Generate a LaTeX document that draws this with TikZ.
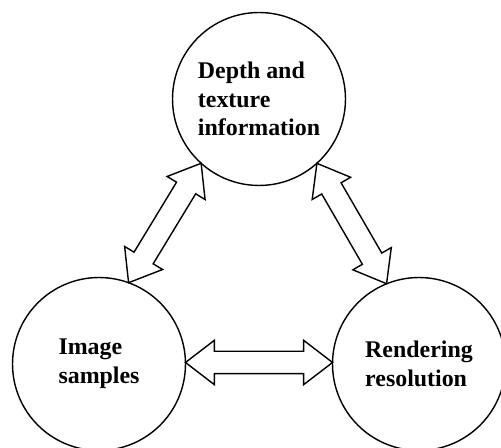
\documentclass[tikz,border=0pt]{standalone}
\usepackage{fontspec}
\setmainfont{Liberation Serif}
\usetikzlibrary{shapes.arrows,calc}

\begin{document}
\begin{tikzpicture}[x=0.02cm, y=-0.02cm]
\tikzset{grosnoeud/.style={draw, circle, line width=0.8pt, minimum size=3.46cm, inner sep=0pt, outer sep=0pt, align=left, font=\fontsize{13.6}{16.4}\selectfont\bfseries}}
\tikzset{flechedouble/.style={draw, double arrow, line width=0.8pt, inner sep=0pt, inner ysep=0.21cm, outer sep=0pt, double arrow head extend=0.22cm, double arrow tip angle=75, anchor=center}}
\useasboundingbox (0,0) rectangle (501,448);
\node[grosnoeud] (C1) at (259,99) {Depth and\\texture\\information};
\node[grosnoeud] (C2) at (99,364) {Image\\samples};
\node[grosnoeud] (C3) at (419,364) {Rendering\\resolution};
\path let \p1=(C1.228), \p2=(C2.70), \n1={veclen(\x2-\x1,\y2-\y1)}, \n2={atan2(\y2-\y1,\x2-\x1)} in node[flechedouble, minimum height=\n1, rotate=\n2] (F12) at ($(\p1)!0.5!(\p2)$) {};
\path let \p1=(C1.312), \p2=(C3.112), \n1={veclen(\x2-\x1,\y2-\y1)}, \n2={atan2(\y2-\y1,\x2-\x1)} in node[flechedouble, minimum height=\n1, rotate=\n2] (F13) at ($(\p1)!0.5!(\p2)$) {};
\path let \p1=(C2.1), \p2=(C3.179), \n1={veclen(\x2-\x1,\y2-\y1)}, \n2={atan2(\y2-\y1,\x2-\x1)} in node[flechedouble, minimum height=\n1, rotate=\n2] (F23) at ($(\p1)!0.5!(\p2)$) {};
\end{tikzpicture}
\end{document}
